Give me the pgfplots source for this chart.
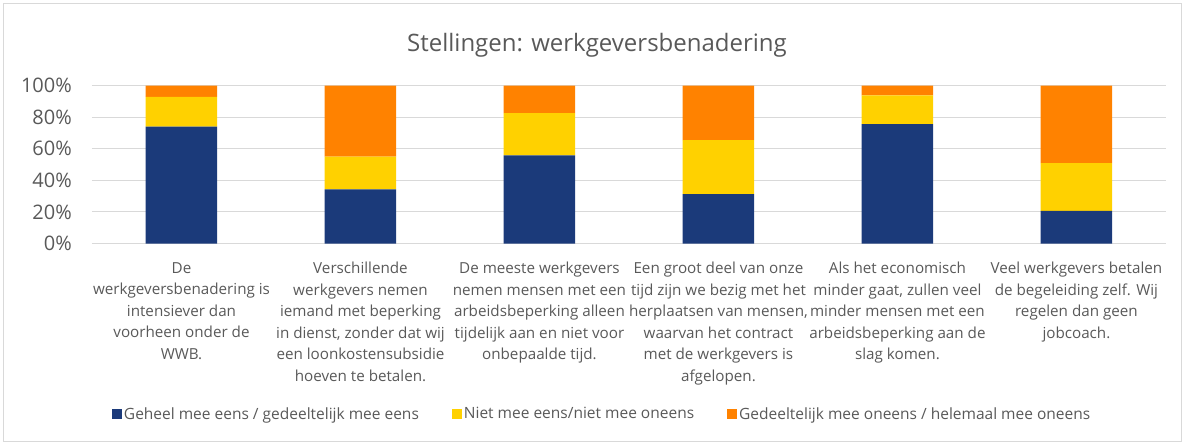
\documentclass[border=0pt]{standalone}
\usepackage{pgfplots}
\pgfplotsset{compat=1.18}
\usepackage{fontspec}
\setmainfont{Open Sans}
\definecolor{cblue}{HTML}{1B3A7A}
\definecolor{cyellow}{HTML}{FFD100}
\definecolor{corange}{HTML}{FF8200}
\definecolor{tgray}{HTML}{595959}
\definecolor{ggray}{HTML}{D9D9D9}
\begin{document}
\begin{tikzpicture}[x=1pt,y=1pt]
\useasboundingbox (0,0) rectangle (1185,445);
\draw[ggray, line width=1pt] (3.5,3.5) rectangle (1181.5,441.5);
\node[tgray, font=\fontsize{24}{28}\selectfont] at (597,400) {Stellingen: werkgeversbenadering};
\begin{axis}[
  at={(92pt,201.5pt)}, anchor=south west,
  scale only axis, width=1074pt, height=158pt,
  ybar stacked, bar width=71.5pt,
  xmin=-0.5, xmax=5.5, ymin=0, ymax=100,
  axis line style={draw=none},
  major tick length=0pt,
  ymajorgrids, grid style={ggray, line width=1pt},
  ytick={0,20,40,60,80,100},
  yticklabels={0\%,20\%,40\%,60\%,80\%,100\%},
  yticklabel style={tgray, font=\fontsize{20}{24}\selectfont, anchor=east, inner sep=0pt, xshift=-20pt},
  xtick={0,1,2,3,4,5},
  xticklabels={
    {De\\werkgeversbenadering is\\intensiever dan\\voorheen onder de\\WWB.},
    {Verschillende\\werkgevers nemen\\iemand met beperking\\in dienst, zonder dat wij\\een loonkostensubsidie\\hoeven te betalen.},
    {De meeste werkgevers\\nemen mensen met een\\arbeidsbeperking alleen\\tijdelijk aan en niet voor\\onbepaalde tijd.},
    {Een groot deel van onze\\tijd zijn we bezig met het\\herplaatsen van mensen,\\waarvan het contract\\met de werkgevers is\\afgelopen.},
    {Als het economisch\\minder gaat, zullen veel\\minder mensen met een\\arbeidsbeperking aan de\\slag komen.},
    {Veel werkgevers betalen\\de begeleiding zelf. Wij\\regelen dan geen\\jobcoach.}},
  xticklabel style={tgray, font=\fontsize{15.2}{21.5}\selectfont, align=center, anchor=north, inner sep=0pt, yshift=-18.5pt},
  legend columns=3,
  legend style={at={(0.475,-1.079)}, anchor=center, draw=none, fill=none,
    font=\fontsize{15.5}{18}\selectfont, text=tgray,
    /tikz/every even column/.append style={column sep=31pt}},
  legend image code/.code={\fill[#1] (0pt,-5pt) rectangle (10pt,5pt);},
]
\addplot[fill=cblue, draw=none] coordinates {(0,74.0) (1,34.3) (2,55.8) (3,31.3) (4,75.5) (5,20.7)};
\addplot[fill=cyellow, draw=none] coordinates {(0,18.8) (1,20.7) (2,26.7) (3,34.2) (4,18.2) (5,30.1)};
\addplot[fill=corange, draw=none] coordinates {(0,7.2) (1,45.0) (2,17.5) (3,34.5) (4,6.3) (5,49.2)};
\legend{Geheel mee eens / gedeeltelijk mee eens, Niet mee eens/niet mee oneens, Gedeeltelijk mee oneens / helemaal mee oneens}
\end{axis}
\end{tikzpicture}
\end{document}
